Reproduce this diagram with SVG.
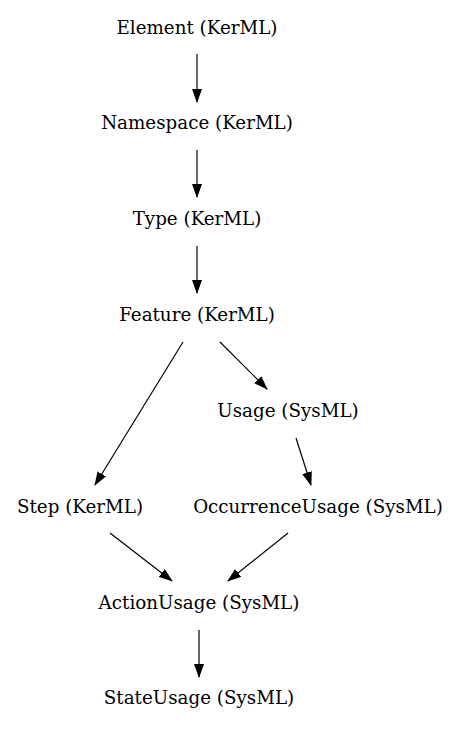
<svg xmlns="http://www.w3.org/2000/svg" width="461" height="731" viewBox="0 0 461 731">
<style>
text{font-family:"DejaVu Serif",serif;font-size:18.3px;fill:#000;text-anchor:middle}
.e{stroke:#000;stroke-width:1.2;fill:none;marker-end:url(#a)}
</style>
<defs><marker id="a" markerUnits="userSpaceOnUse" markerWidth="14" markerHeight="10" refX="13" refY="5" orient="auto" viewBox="0 0 14 10"><path d="M0,0L14,5L0,10Z" fill="#000"/></marker></defs>
<rect width="461" height="731" fill="#fff"/>
<g id="edges">
<line class="e" x1="197" y1="54" x2="197" y2="102"/>
<line class="e" x1="197" y1="150" x2="197" y2="197"/>
<line class="e" x1="197" y1="246" x2="197" y2="293"/>
<line class="e" x1="183" y1="342" x2="95" y2="485"/>
<line class="e" x1="220" y1="342" x2="267" y2="389"/>
<line class="e" x1="296" y1="438" x2="311" y2="485"/>
<line class="e" x1="110" y1="533" x2="172" y2="581"/>
<line class="e" x1="288" y1="533" x2="228" y2="581"/>
<line class="e" x1="199" y1="630" x2="199" y2="677"/>
</g>
<g id="n1"><text x="197" y="34">Element (KerML)</text></g>
<g id="n2"><text x="197" y="129">Namespace (KerML)</text></g>
<g id="n3"><text x="197" y="225">Type (KerML)</text></g>
<g id="n4"><text x="197" y="321">Feature (KerML)</text></g>
<g id="n5"><text x="288" y="417">Usage (SysML)</text></g>
<g id="n6"><text x="80" y="513">Step (KerML)</text></g>
<g id="n7"><text x="318" y="513">OccurrenceUsage (SysML)</text></g>
<g id="n8"><text x="199" y="609">ActionUsage (SysML)</text></g>
<g id="n9"><text x="199" y="704">StateUsage (SysML)</text></g>
</svg>
